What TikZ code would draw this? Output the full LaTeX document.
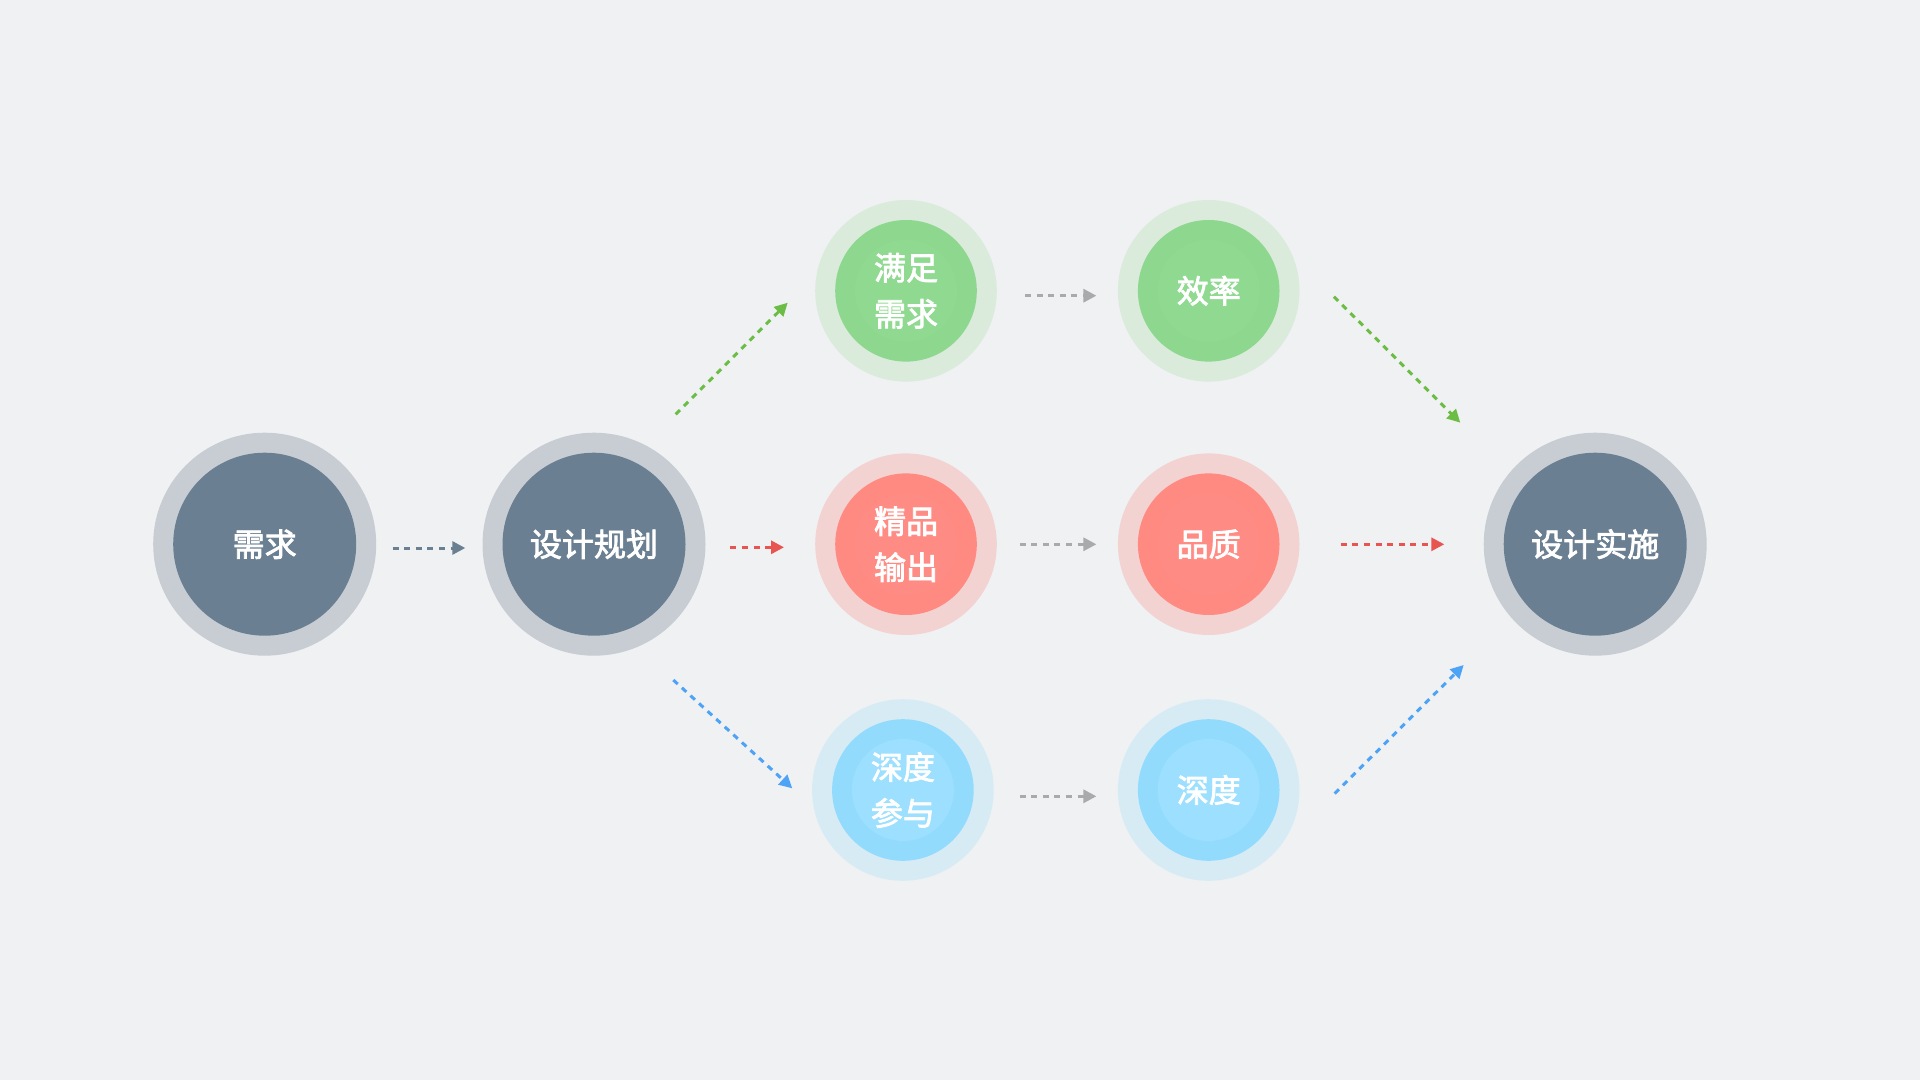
\documentclass[tikz,border=0pt]{standalone}
\usepackage{fontspec}
\newfontfamily\cjk[FakeBold=2.5]{Noto Sans CJK SC}
\usetikzlibrary{arrows.meta}
\definecolor{bg}{HTML}{EFF1F3}
\definecolor{ringgray}{HTML}{C8CDD4}
\definecolor{slate}{HTML}{6A7F92}
\definecolor{gout}{HTML}{DAEBDC}
\definecolor{gin}{HTML}{8ED78F}
\definecolor{gmid}{HTML}{90D991}
\definecolor{garrow}{HTML}{6CBD45}
\definecolor{rout}{HTML}{F3D3D2}
\definecolor{rin}{HTML}{FF8A82}
\definecolor{rmid}{HTML}{FF8C84}
\definecolor{rarrow}{HTML}{E85450}
\definecolor{bout}{HTML}{D7EBF5}
\definecolor{bin}{HTML}{92DBFD}
\definecolor{bmid}{HTML}{9CDFFE}
\definecolor{barrow}{HTML}{4DA3F5}
\definecolor{grayarrow}{HTML}{A8AAAC}
\tikzset{
  disc/.style={circle, draw=none, inner sep=0pt},
  bigouter/.style={disc, minimum size=111.5pt, fill=ringgray},
  biginner/.style={disc, minimum size=91.5pt, fill=slate},
  smallouter/.style={disc, minimum size=90.8pt},
  smallinner/.style={disc, minimum size=70.8pt},
  smallcore/.style={disc, minimum size=51pt},
  label/.style={text=white, align=center, inner sep=0pt, font=\cjk\fontsize{16pt}{23pt}\selectfont},
  flow/.style={dash pattern=on 3pt off 2.8pt, line width=1.5pt, -{Triangle[length=6.5pt,width=6.5pt]}},
}
\begin{document}
\begin{tikzpicture}[x=0.5pt,y=-0.5pt]
\fill[bg] (0,0) rectangle (1920,1080);
\useasboundingbox (0,0) rectangle (1920,1080);

% big gray nodes
\node[bigouter] (xq) at (264.7,544.2) {};
\node[biginner] (xqi) at (xq) {};
\node[label] (xqt) at (xq) {需求};

\node[bigouter] (gh) at (594,544.2) {};
\node[biginner] (ghi) at (gh) {};
\node[label] (ght) at (gh) {设计规划};

\node[bigouter] (ss) at (1595.2,544.2) {};
\node[biginner] (ssi) at (ss) {};
\node[label] (sst) at (ss) {设计实施};

% green row
\node[smallouter, fill=gout] (mz) at (906,290.8) {};
\node[smallinner, fill=gin] (mzi) at (mz) {};
\node[smallcore, fill=gmid] (mzc) at (mz) {};
\node[label] (mzt) at (mz) {满足\\需求};

\node[smallouter, fill=gout] (xl) at (1208.7,290.8) {};
\node[smallinner, fill=gin] (xli) at (xl) {};
\node[smallcore, fill=gmid] (xlc) at (xl) {};
\node[label] (xlt) at (xl) {效率};

% red row
\node[smallouter, fill=rout] (jp) at (906,544.2) {};
\node[smallinner, fill=rin] (jpi) at (jp) {};
\node[smallcore, fill=rmid] (jpc) at (jp) {};
\node[label] (jpt) at (jp) {精品\\输出};

\node[smallouter, fill=rout] (pz) at (1208.7,544.2) {};
\node[smallinner, fill=rin] (pzi) at (pz) {};
\node[smallcore, fill=rmid] (pzc) at (pz) {};
\node[label] (pzt) at (pz) {品质};

% blue row
\node[smallouter, fill=bout] (sd) at (902.9,790) {};
\node[smallinner, fill=bin] (sdi) at (sd) {};
\node[smallcore, fill=bmid] (sdc) at (sd) {};
\node[label] (sdt) at (sd) {深度\\参与};

\node[smallouter, fill=bout] (sd2) at (1208.7,790) {};
\node[smallinner, fill=bin] (sd2i) at (sd2) {};
\node[smallcore, fill=bmid] (sd2c) at (sd2) {};
\node[label] (sd2t) at (sd2) {深度};

% connector end points
\coordinate (a1s) at (392.6,548);  \coordinate (a1e) at (465.3,548);
\coordinate (a2s) at (730.4,547.3); \coordinate (a2e) at (784,547.3);
\coordinate (a3s) at (675.7,414.3); \coordinate (a3e) at (787.7,302.7);
\coordinate (a4s) at (673.3,680);  \coordinate (a4e) at (792.3,788.3);
\coordinate (a5s) at (1025,295.7); \coordinate (a5e) at (1096.4,295.7);
\coordinate (a6s) at (1019.6,544.3); \coordinate (a6e) at (1096.4,544.3);
\coordinate (a7s) at (1019.6,796.3); \coordinate (a7e) at (1096.4,796.3);
\coordinate (a8s) at (1334,296.7); \coordinate (a8e) at (1460.3,422.7);
\coordinate (a9s) at (1340.7,544.3); \coordinate (a9e) at (1444.3,544.3);
\coordinate (a10s) at (1334.7,793.5); \coordinate (a10e) at (1463.7,665);

\draw[flow, slate] (a1s) -- (a1e);
\draw[flow, rarrow] (a2s) -- (a2e);
\draw[flow, garrow] (a3s) -- (a3e);
\draw[flow, barrow] (a4s) -- (a4e);
\draw[flow, grayarrow] (a5s) -- (a5e);
\draw[flow, grayarrow] (a6s) -- (a6e);
\draw[flow, grayarrow] (a7s) -- (a7e);
\draw[flow, garrow] (a8s) -- (a8e);
\draw[flow, rarrow] (a9s) -- (a9e);
\draw[flow, barrow] (a10s) -- (a10e);
\end{tikzpicture}
\end{document}
